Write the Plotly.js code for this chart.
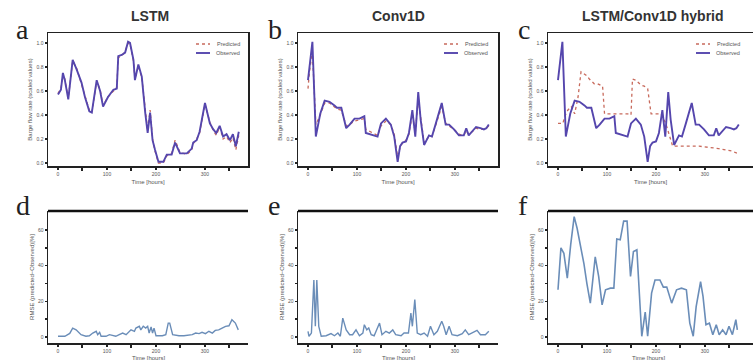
<!DOCTYPE html>
<html><head><meta charset="utf-8">
<script src="https://cdn.plot.ly/plotly-3.0.1.min.js"></script>
<style>html,body{margin:0;padding:0;background:#fff}#chart{width:753px;height:360px}</style>
</head><body><div id="chart"></div>
<script>
// ---- Panel a (LSTM) ----
const tA = [0,6,10,14,21,30,38,48,55,64,69,79,86,92,102,113,120,123,130,137,143,147,154,157,164,171,178,183,188,193,198,205,215,222,232,239,249,263,273,276,283,289,300,310,317,323,330,337,344,351,357,363,369];
const obsA = [0.57,0.61,0.75,0.69,0.53,0.86,0.78,0.67,0.55,0.43,0.42,0.69,0.60,0.47,0.55,0.61,0.62,0.89,0.90,0.92,1.01,1.00,0.86,0.69,0.82,0.72,0.42,0.25,0.42,0.19,0.11,0.01,0.01,0.07,0.07,0.17,0.08,0.08,0.12,0.17,0.19,0.26,0.50,0.33,0.28,0.25,0.31,0.22,0.24,0.19,0.24,0.14,0.26];
const predA = [0.58,0.62,0.74,0.70,0.54,0.85,0.79,0.66,0.56,0.44,0.42,0.68,0.61,0.48,0.55,0.60,0.63,0.88,0.89,0.93,1.00,0.99,0.85,0.70,0.81,0.71,0.45,0.27,0.44,0.20,0.10,0.00,0.00,0.06,0.08,0.19,0.09,0.07,0.11,0.16,0.20,0.25,0.49,0.34,0.27,0.23,0.30,0.20,0.22,0.17,0.21,0.11,0.23];

// ---- Panels b & c observed (Conv1D / hybrid) ----
const tB = [0,3,9,16,25,34,44,54,59,68,78,85,95,105,115,118,135,142,149,159,169,176,183,188,193,200,206,213,219,225,230,237,247,253,261,273,281,288,298,308,318,323,328,335,343,352,359,364,369];
const obsB = [0.69,0.80,1.01,0.22,0.41,0.52,0.51,0.48,0.46,0.46,0.29,0.32,0.37,0.37,0.39,0.25,0.23,0.22,0.33,0.37,0.32,0.22,0.01,0.14,0.17,0.18,0.25,0.44,0.22,0.59,0.36,0.15,0.23,0.22,0.33,0.50,0.32,0.32,0.28,0.23,0.23,0.29,0.23,0.26,0.30,0.29,0.28,0.29,0.32];
const predB = [0.62,0.76,0.93,0.32,0.40,0.50,0.50,0.47,0.45,0.44,0.31,0.32,0.35,0.36,0.37,0.28,0.24,0.23,0.31,0.35,0.32,0.24,0.05,0.13,0.17,0.19,0.24,0.41,0.25,0.54,0.38,0.17,0.22,0.22,0.32,0.47,0.33,0.31,0.28,0.24,0.23,0.27,0.24,0.26,0.29,0.28,0.28,0.29,0.31];

// ---- Panel c predicted (hybrid) ----
const tC = [0,10,14,20,27,34,41,47,58,64,74,81,91,95,105,142,149,152,159,169,176,183,190,200,210,220,234,240,288,328,355,366];
const predC = [0.33,0.33,0.39,0.44,0.47,0.41,0.55,0.76,0.73,0.70,0.66,0.66,0.64,0.41,0.41,0.41,0.40,0.70,0.69,0.65,0.64,0.62,0.41,0.41,0.41,0.33,0.14,0.14,0.14,0.12,0.10,0.08];

// ---- Panel d (LSTM RMSE %) ----
const tD = [0,14,24,30,37,47,57,64,71,78,81,85,88,98,105,112,118,125,132,139,145,149,156,159,166,169,174,179,183,186,190,193,196,200,213,220,225,228,234,247,257,274,281,288,294,301,308,315,321,328,335,342,349,355,362,368];
const rmseD = [0.4,0.4,2,5,4,1.3,0.4,0.7,2.2,3.2,1.3,2.6,0.4,0.4,1.3,0.7,0.4,1.3,2.2,1.3,2.6,4,3.2,5,6,4,6,5,6,2.2,5.6,2.2,5,0.7,0.7,1.3,7.8,7.8,1.3,0.7,0.7,1.3,2.2,1.9,2.6,1.9,3.2,2.2,3.7,4,5,6,6.3,9.7,7.8,4];

// ---- Panel e (Conv1D RMSE %) ----
const tE = [0,2,7,12,15,18,22,27,37,47,54,61,66,71,78,85,91,98,105,112,115,120,124,129,135,146,151,159,166,173,179,190,196,205,210,213,218,223,230,237,244,250,257,264,273,277,282,288,294,305,315,321,328,335,345,352,362,369];
const rmseE = [3.2,0.4,2.2,32,6,32,6,0.4,0.7,1.9,0.7,2.2,0.4,10.6,4,1.3,1.3,4,0.7,2.2,6.9,4,5,1.3,0.7,7.8,1.3,3.2,2.2,4,1.3,0.7,2.2,2.2,13.4,6,21,2.2,1.3,2.2,0.4,6,1.3,3.2,8.8,6,1.3,6,1.3,0.7,1.9,4,1.3,2.2,3.7,1.3,1.3,3.2];

// ---- Panel f (hybrid RMSE %) ----
const tF = [0,6,12,19,26,33,39,46,53,59,66,76,83,90,97,107,114,120,127,134,141,148,154,161,164,171,178,183,191,198,208,215,222,232,242,252,262,269,276,282,291,296,302,309,316,323,329,336,343,349,356,363,366];
const rmseF = [26.5,50,47,33,52,67.5,61,52,41,30,19,45,34,18,26.5,27.4,27.4,55,54.5,65,65,34,48,49,32,0.4,14,0.4,24.6,32,32,28,28,19,26.5,27.4,26.5,7.8,0.4,17,31,22.8,6.9,7.8,1.3,6.9,1.3,4,1.3,6,1.3,9.7,4];

const titles = ["LSTM", "Conv1D", "LSTM/Conv1D hybrid"];
const letters = ["a","b","c","d","e","f"];
const legendNames = ["Predicted", "Observed"];
const xTickVals = [0,100,200,300];
const yTopTicks = [0,0.2,0.4,0.6,0.8,1.0];
const yBotTicks = [0,20,40,60];
const yTopTitle = "Barge flow rate (scaled values)";
const yBotTitle = "RMSE (predicted−Observed)[%]";
const xTitle = "Time [hours]";

const OBS = '#5546ad', PRED = '#c86a5c', ERR = '#6a8db8';

const traces = [
  {x:tA, y:predA, xaxis:'x', yaxis:'y', name:'Predicted', mode:'lines', line:{color:PRED,width:1.3,dash:'dot'}},
  {x:tA, y:obsA, xaxis:'x', yaxis:'y', name:'Observed', mode:'lines', line:{color:OBS,width:1.9}},
  {x:tB, y:predB, xaxis:'x2', yaxis:'y2', name:'Predicted', mode:'lines', line:{color:PRED,width:1.3,dash:'dot'}},
  {x:tB, y:obsB, xaxis:'x2', yaxis:'y2', name:'Observed', mode:'lines', line:{color:OBS,width:1.9}},
  {x:tC, y:predC, xaxis:'x3', yaxis:'y3', name:'Predicted', mode:'lines', line:{color:PRED,width:1.3,dash:'dot'}},
  {x:tB, y:obsB, xaxis:'x3', yaxis:'y3', name:'Observed', mode:'lines', line:{color:OBS,width:1.9}},
  {x:tD, y:rmseD, xaxis:'x4', yaxis:'y4', mode:'lines', line:{color:ERR,width:1.4}},
  {x:tE, y:rmseE, xaxis:'x5', yaxis:'y5', mode:'lines', line:{color:ERR,width:1.4}},
  {x:tF, y:rmseF, xaxis:'x6', yaxis:'y6', mode:'lines', line:{color:ERR,width:1.6}}
];

const W = 753, H = 360;
const colDom = [[48/W, 248/W],[298/W, 498/W],[548/W, 1]];
const colRange = [[-20.4,387.8],[-20.4,387.8],[-20.4,398]];
const topDom = [1-166/H, 1-33/H];
const botDom = [1-343/H, 1-211/H];
const tickFont = {family:'Liberation Sans', size:5, color:'#555'};
const titleFont = {family:'Liberation Sans', size:6, color:'#555'};

const layout = {
  width:W, height:H, margin:{l:0,r:0,t:0,b:0},
  paper_bgcolor:'#fff', plot_bgcolor:'#fff',
  annotations:[], shapes:[], showlegend:false
};

for (let i=0;i<6;i++){
  const col = i%3, top = i<3;
  const xs = i===0 ? 'xaxis' : 'xaxis'+(i+1);
  const ys = i===0 ? 'yaxis' : 'yaxis'+(i+1);
  const yid = i===0 ? 'y' : 'y'+(i+1);
  const xid = i===0 ? 'x' : 'x'+(i+1);
  layout[xs] = {
    domain:colDom[col], range:colRange[col], anchor:yid,
    showline:true, linecolor:'#222', linewidth:1.5, mirror: top ? true : false,
    showgrid:false, zeroline:false,
    tickvals:xTickVals, ticks:'outside', ticklen:2, tickwidth:1.5, tickcolor:'#222',
    minor:{tickvals:[50,150,250,350], ticks:'outside', ticklen:3, tickwidth:2, tickcolor:'#222'},
    tickfont:tickFont,
    title: top ? {text:xTitle, font:titleFont, standoff:4} : {text:''}
  };
  layout[ys] = {
    domain: top ? topDom : botDom,
    range: top ? [-0.025,1.083] : [-3.37,70.7], anchor:xid,
    showline:true, linecolor:'#222', linewidth:1.5, mirror: top ? true : false,
    showgrid:false, zeroline:false,
    tickvals: top ? yTopTicks : yBotTicks, tickformat: top ? '.1f' : 'd',
    ticks:'outside', ticklen:2, tickwidth:1.5, tickcolor:'#222',
    tickfont:tickFont,
    title:{text: top ? yTopTitle : yBotTitle, font:titleFont, standoff:3}
  };
  if (!top) {
    layout[ys].minor = {tickvals:[10,30,50], ticks:'outside', ticklen:2, tickwidth:1.5, tickcolor:'#222'};
    layout.annotations.push({text:xTitle, xref:'paper', yref:'paper', x:(colDom[col][0]*W+100)/W, y:1-358/H,
      xanchor:'center', yanchor:'middle', showarrow:false, font:titleFont});
  }
  const lx = [14, 266, 516][col];
  layout.annotations.push({text:letters[i], xref:'paper', yref:'paper', x:lx/W, y: top ? 1-29/H : 1-205/H,
    xanchor:'left', yanchor:'middle', showarrow:false, font:{family:'Liberation Serif', size:28, color:'#222'}});
}
// thick top border of lower panels
[0,1,2].forEach(c => layout.shapes.push({type:'line', xref:'paper', yref:'paper', x0:colDom[c][0], x1:colDom[c][1], y0:botDom[1], y1:botDom[1], line:{color:'#111', width:2.5}}));

// column titles
const titleX = [150, 398, 653];
titles.forEach((t,c) => layout.annotations.push({text:'<b>'+t+'</b>', xref:'paper', yref:'paper', x:titleX[c]/W, y:1-16/H,
  xanchor:'center', yanchor:'middle', showarrow:false, font:{family:'Liberation Sans', size:14, color:'#333'}}));

// compact legends (text + sample line) in each top panel
const legRight = [242, 490, 742];
const legY = [44, 53];
const legStyle = [{color:PRED, width:1.3, dash:'dot'}, {color:OBS, width:1.9}];
legRight.forEach(r => {
  legendNames.forEach((nm,k) => {
    layout.annotations.push({text:nm, xref:'paper', yref:'paper', x:r/W, y:1-legY[k]/H, xanchor:'right', yanchor:'middle',
      showarrow:false, font:{family:'Liberation Sans', size:5.5, color:'#555'}});
    layout.shapes.push({type:'line', xref:'paper', yref:'paper', x0:(r-46)/W, x1:(r-32)/W, y0:1-legY[k]/H, y1:1-legY[k]/H, line:legStyle[k]});
  });
});

Plotly.newPlot('chart', traces, layout, {staticPlot:true, displayModeBar:false});
</script></body></html>
